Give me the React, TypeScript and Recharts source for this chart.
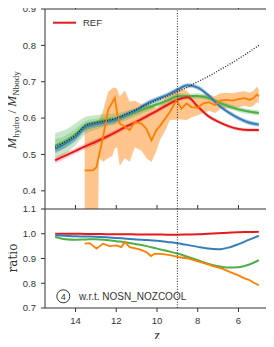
import { Area, ComposedChart, Line, ReferenceLine, XAxis, YAxis } from "recharts";

const RED = "#e41a1c";
const BLUE = "#377eb8";
const GREEN = "#4daf4a";
const ORANGE = "#ff7f00";
const INK = "#333";
const SANS = "'Liberation Sans', Arial, sans-serif";
const SERIF = "'Liberation Serif', 'Times New Roman', serif";

// redshift grid shared by the smooth runs
const zGrid = [15, 14.5, 14, 13.5, 13, 12.5, 12, 11.5, 11, 10.5, 10, 9.5, 9, 8.5, 8, 7.5, 7, 6.5, 6, 5.5, 5];

// top panel: M_hydro / M_Nbody
const nbodyTop = [0.52, 0.535, 0.553, 0.58, 0.588, 0.593, 0.6, 0.612, 0.624, 0.637, 0.649, 0.66, 0.672, 0.685, 0.7, 0.714, 0.73, 0.746, 0.763, 0.781, 0.8];
const refTop = [0.484, 0.497, 0.51, 0.523, 0.535, 0.548, 0.562, 0.577, 0.59, 0.605, 0.62, 0.636, 0.65, 0.657, 0.632, 0.606, 0.59, 0.578, 0.57, 0.567, 0.567];
const blueTop = [0.515, 0.53, 0.548, 0.576, 0.584, 0.589, 0.596, 0.609, 0.622, 0.64, 0.652, 0.664, 0.678, 0.69, 0.684, 0.664, 0.637, 0.616, 0.6, 0.588, 0.582];
const greenTop = [0.525, 0.535, 0.556, 0.58, 0.588, 0.594, 0.598, 0.607, 0.617, 0.628, 0.638, 0.648, 0.66, 0.66, 0.661, 0.656, 0.644, 0.633, 0.624, 0.618, 0.614];

const refSpread = [0.009, 0.009, 0.008, 0.008, 0.008, 0.007, 0.007, 0.007, 0.006, 0.006, 0.006, 0.006, 0.006, 0.006, 0.005, 0.005, 0.005, 0.005, 0.005, 0.005, 0.005];
const blueSpread = [0.012, 0.012, 0.011, 0.01, 0.009, 0.009, 0.008, 0.008, 0.007, 0.007, 0.007, 0.006, 0.006, 0.006, 0.006, 0.006, 0.006, 0.006, 0.006, 0.006, 0.006];
const greenSpread = [0.035, 0.033, 0.03, 0.024, 0.02, 0.017, 0.015, 0.013, 0.011, 0.01, 0.009, 0.008, 0.008, 0.007, 0.007, 0.007, 0.007, 0.007, 0.007, 0.007, 0.007];

const orangeZ = [13.55, 13.15, 12.97, 12.65, 12.4, 12.07, 11.96, 11.83, 11.58, 11.34, 11.09, 10.76, 10.52, 10.27, 10.03, 9.86, 9.37, 9.04, 8.8, 8.55, 8.3, 8.0, 7.75, 7.45, 7.15, 6.9, 6.6, 6.3, 6.0, 5.7, 5.45, 5.25, 5.1, 5.0];
const orangeTop = [0.456, 0.456, 0.465, 0.548, 0.623, 0.656, 0.613, 0.585, 0.576, 0.567, 0.589, 0.585, 0.57, 0.539, 0.567, 0.578, 0.617, 0.649, 0.626, 0.64, 0.63, 0.628, 0.64, 0.644, 0.636, 0.648, 0.65, 0.648, 0.652, 0.655, 0.65, 0.655, 0.665, 0.66];

const orangeBandZ = [13.55, 13.15, 12.9, 12.85, 12.65, 12.4, 12.2, 12.07, 11.96, 11.83, 11.58, 11.34, 11.09, 10.76, 10.52, 10.27, 10.03, 9.86, 9.6, 9.37, 9.04, 8.8, 8.55, 8.3, 8.0, 7.75, 7.45, 7.15, 6.9, 6.6, 6.3, 6.0, 5.7, 5.45, 5.25, 5.1, 5.0];
const orangeBandLo = [0.3, 0.3, 0.3, 0.49, 0.48, 0.49, 0.495, 0.517, 0.52, 0.468, 0.49, 0.48, 0.52, 0.51, 0.49, 0.479, 0.51, 0.54, 0.565, 0.594, 0.596, 0.596, 0.595, 0.602, 0.608, 0.614, 0.62, 0.614, 0.624, 0.628, 0.626, 0.63, 0.634, 0.63, 0.634, 0.644, 0.64];
const orangeBandHi = [0.578, 0.585, 0.59, 0.595, 0.62, 0.672, 0.682, 0.684, 0.68, 0.66, 0.675, 0.645, 0.648, 0.638, 0.636, 0.635, 0.626, 0.635, 0.655, 0.668, 0.676, 0.682, 0.675, 0.66, 0.658, 0.662, 0.665, 0.66, 0.668, 0.67, 0.668, 0.672, 0.674, 0.67, 0.675, 0.686, 0.68];

// bottom panel: ratio w.r.t. NOSN_NOZCOOL
const refRatio = [1.0, 1.0, 1.0, 0.999, 0.999, 0.998, 0.998, 0.998, 0.997, 0.997, 0.997, 0.996, 0.996, 0.997, 0.998, 1.0, 1.002, 1.004, 1.006, 1.007, 1.008];
const blueRatio = [0.994, 0.992, 0.99, 0.989, 0.988, 0.986, 0.983, 0.98, 0.977, 0.975, 0.972, 0.967, 0.962, 0.955, 0.947, 0.94, 0.937, 0.944, 0.958, 0.975, 0.992];
const greenRatio = [0.987, 0.978, 0.976, 0.977, 0.978, 0.975, 0.97, 0.965, 0.958, 0.95, 0.94, 0.93, 0.92, 0.907, 0.893, 0.879, 0.869, 0.864, 0.865, 0.875, 0.893];
const orangeRatioZ = [13.55, 13.3, 12.97, 12.65, 12.32, 11.99, 11.75, 11.58, 11.34, 10.85, 10.52, 10.3, 10.1, 9.7, 9.3, 8.9, 8.47, 8.0, 7.65, 7.2, 6.8, 6.4, 6.0, 5.7, 5.44, 5.2, 5.0];
const orangeRatio = [0.96, 0.962, 0.94, 0.96, 0.95, 0.953, 0.946, 0.967, 0.946, 0.937, 0.926, 0.91, 0.92, 0.918, 0.913, 0.905, 0.9, 0.888, 0.88, 0.868, 0.859, 0.845, 0.832, 0.82, 0.812, 0.8, 0.792];

const zTicks = [14, 12, 10, 8, 6];
const topTicks = [0.4, 0.5, 0.6, 0.7, 0.8, 0.9];
const ratioTicks = [0.7, 0.8, 0.9, 1.0, 1.1];
const Z_SPLIT = 9;

const pts = (zs: number[], vs: number[]) => zs.map((z, i) => ({ z, v: vs[i] }));
const band = (zs: number[], vs: number[], sp: number[], k = 1) =>
  zs.map((z, i) => ({ z, b: [vs[i] - sp[i] * k, vs[i] + sp[i] * k] }));
const rangeBand = (zs: number[], lo: number[], hi: number[]) =>
  zs.map((z, i) => ({ z, b: [lo[i], hi[i]] }));

const tickStyle = { fill: INK, fontSize: 9.5, fontFamily: SANS };
const blank = () => "";
const fmt = (v: number) => v.toFixed(1);
const s = { xAxisId: "b", yAxisId: "l", isAnimationActive: false, dot: false };

export default function App() {
  return (
    <div style={{ position: "relative", margin: -8, width: 274, height: 347 }}>
      <div style={{ position: "absolute", left: 0, top: 0 }}>
        <ComposedChart width={274} height={209} margin={{ top: 5, right: 0, bottom: 0, left: 0 }}>
          <XAxis xAxisId="b" dataKey="z" type="number" domain={[4.5, 15.5]} reversed allowDataOverflow hide />
          <XAxis xAxisId="t" dataKey="z" type="number" domain={[4.5, 15.5]} reversed allowDataOverflow orientation="top" height={4} ticks={zTicks} interval={0} tickSize={4} stroke={INK} tickFormatter={blank} />
          <YAxis yAxisId="l" type="number" domain={[0.35, 0.9]} ticks={topTicks} interval={0} allowDataOverflow width={45} stroke={INK} tickSize={4} tickMargin={5} tick={tickStyle} tickFormatter={fmt} />
          <YAxis yAxisId="r" orientation="right" type="number" domain={[0.35, 0.9]} ticks={topTicks} interval={0} allowDataOverflow width={5} stroke={INK} tickSize={4} tickFormatter={blank} />
          <Area {...s} data={rangeBand(orangeBandZ, orangeBandLo, orangeBandHi)} dataKey="b" type="linear" stroke="none" fill={ORANGE} fillOpacity={0.45} />
          <Area {...s} data={band(zGrid, greenTop, greenSpread)} dataKey="b" type="monotone" stroke="none" fill={GREEN} fillOpacity={0.3} />
          <Area {...s} data={band(zGrid, greenTop, greenSpread, 0.5)} dataKey="b" type="monotone" stroke="none" fill={GREEN} fillOpacity={0.3} />
          <Area {...s} data={band(zGrid, blueTop, blueSpread)} dataKey="b" type="monotone" stroke="none" fill={BLUE} fillOpacity={0.4} />
          <Area {...s} data={band(zGrid, refTop, refSpread)} dataKey="b" type="monotone" stroke="none" fill={RED} fillOpacity={0.22} />
          <Line {...s} data={pts(zGrid, greenTop)} dataKey="v" type="monotone" stroke={GREEN} strokeWidth={2} />
          <Line {...s} data={pts(zGrid, refTop)} dataKey="v" name="REF" type="monotone" stroke={RED} strokeWidth={2} />
          <Line {...s} data={pts(zGrid, blueTop)} dataKey="v" type="monotone" stroke={BLUE} strokeWidth={2} />
          <Line {...s} data={pts(orangeZ, orangeTop)} dataKey="v" type="linear" stroke={ORANGE} strokeWidth={1.8} />
          <Line {...s} data={pts(zGrid, nbodyTop)} dataKey="v" type="monotone" stroke="#222" strokeWidth={1.3} strokeDasharray="1 1.6" />
          <ReferenceLine xAxisId="b" yAxisId="l" x={Z_SPLIT} stroke="#222" strokeWidth={1} strokeDasharray="1 1.6" />
        </ComposedChart>
      </div>
      <div style={{ position: "absolute", left: 0, top: 204 }}>
        <ComposedChart width={274} height={143} margin={{ top: 1, right: 0, bottom: 0, left: 0 }}>
          <XAxis xAxisId="b" dataKey="z" type="number" domain={[4.5, 15.5]} reversed allowDataOverflow height={39} ticks={zTicks} interval={0} tickSize={4} tickMargin={5} stroke={INK} tick={tickStyle} />
          <XAxis xAxisId="t" dataKey="z" type="number" domain={[4.5, 15.5]} reversed allowDataOverflow orientation="top" height={4} ticks={zTicks} interval={0} tickSize={4} stroke={INK} tickFormatter={blank} />
          <YAxis yAxisId="l" type="number" domain={[0.7, 1.1]} ticks={ratioTicks} interval={0} allowDataOverflow width={45} stroke={INK} tickSize={4} tickMargin={5} tick={tickStyle} tickFormatter={fmt} />
          <YAxis yAxisId="r" orientation="right" type="number" domain={[0.7, 1.1]} ticks={ratioTicks} interval={0} allowDataOverflow width={5} stroke={INK} tickSize={4} tickFormatter={blank} />
          <Line {...s} data={pts(zGrid, greenRatio)} dataKey="v" type="monotone" stroke={GREEN} strokeWidth={2} />
          <Line {...s} data={pts(zGrid, refRatio)} dataKey="v" type="monotone" stroke={RED} strokeWidth={2} />
          <Line {...s} data={pts(zGrid, blueRatio)} dataKey="v" type="monotone" stroke={BLUE} strokeWidth={2} />
          <Line {...s} data={pts(orangeRatioZ, orangeRatio)} dataKey="v" type="linear" stroke={ORANGE} strokeWidth={1.8} />
          <ReferenceLine xAxisId="b" yAxisId="l" x={Z_SPLIT} stroke="#222" strokeWidth={1} strokeDasharray="1 1.6" />
        </ComposedChart>
      </div>
      <svg width={274} height={347} style={{ position: "absolute", left: 0, top: 0, pointerEvents: "none" }}>
        <line x1={53} x2={76} y1={22.7} y2={22.7} stroke={RED} strokeWidth={2} />
        <text x={83} y={26.2} fontSize={9.5} fontFamily={SANS} fill={INK}>REF</text>
        <text transform="translate(16,110) rotate(-90)" textAnchor="middle" fontFamily={SERIF} fontSize={13} fill={INK}>
          <tspan fontStyle="italic">M</tspan>
          <tspan fontSize={9} dy={3}>hydro</tspan>
          <tspan dy={-3}> / </tspan>
          <tspan fontStyle="italic">M</tspan>
          <tspan fontSize={9} dy={3}>Nbody</tspan>
        </text>
        <text transform="translate(16.5,258) rotate(-90)" textAnchor="middle" fontFamily="'DejaVu Serif', serif" fontSize={12} fill={INK}>ratio</text>
        <text x={157} y={340} textAnchor="middle" fontFamily={SERIF} fontStyle="italic" fontSize={14} fill={INK}>z</text>
        <circle cx={63.3} cy={296.3} r={6.5} fill="none" stroke={INK} strokeWidth={1} />
        <text x={63.3} y={299.5} textAnchor="middle" fontSize={9} fontFamily={SANS} fill={INK}>4</text>
        <text x={79} y={299.6} fontSize={10} fontFamily={SANS} fill={INK}>w.r.t. NOSN_NOZCOOL</text>
      </svg>
    </div>
  );
}
